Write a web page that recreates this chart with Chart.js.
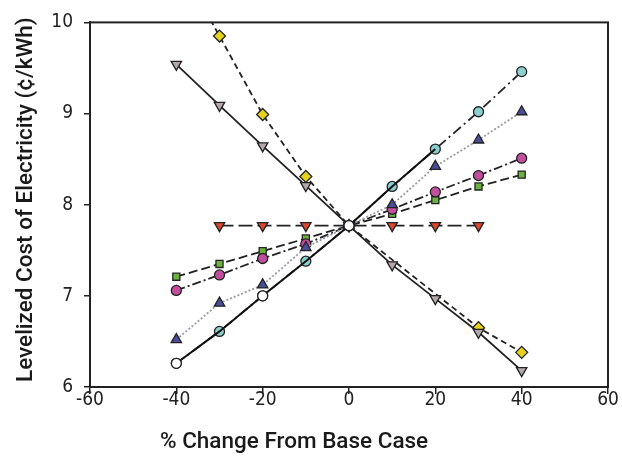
<!DOCTYPE html>
<html>
<head>
<meta charset="utf-8">
<script src="https://cdn.jsdelivr.net/npm/chart.js@4/dist/chart.umd.min.js"></script>
<style>
html,body{margin:0;padding:0;background:#fff;}
#wrap{width:622px;height:458px;}
</style>
</head>
<body>
<div id="wrap"><canvas id="c" width="622" height="458"></canvas></div>
<script>
const xChanges = [-40, -30, -20, -10, 0, 10, 20, 30, 40];
const xTicks = [-60, -40, -20, 0, 20, 40, 60];
const yTicks = [6, 7, 8, 9, 10];
const xTitle = '% Change From Base Case';
const yTitle = 'Levelized Cost of Electricity (¢/kWh)';
const yellowDiamond = [10.7, 9.85, 8.99, 8.31, 7.77, null, null, 6.65, 6.38];
const grayTriangle  = [9.54, 9.09, 8.645, 8.21, 7.77, 7.34, 6.97, 6.60, 6.18];
const redTriangle   = [null, 7.77, 7.77, 7.77, 7.77, 7.77, 7.77, 7.77, null];
const greenSquare   = [7.21, 7.35, 7.49, 7.63, 7.77, 7.90, 8.05, 8.20, 8.33];
const pinkCircle    = [7.06, 7.23, 7.41, 7.57, 7.77, 7.95, 8.14, 8.32, 8.51];
const blueTriangle  = [6.52, 6.92, 7.12, 7.53, 7.77, 8.00, 8.42, 8.71, 9.02];
const cyanCircle    = [6.26, 6.61, 7.00, 7.38, 7.77, 8.20, 8.61, 9.02, 9.46];
const whiteCircle   = [6.26, 6.61, 7.00, 7.38, 7.77, 8.20, 8.61, null, null];

const pts = arr => xChanges.map((x, i) => ({x: x, y: arr[i]}));
const TICKFONT = "'DejaVu Sans Condensed', 'Liberation Sans', sans-serif";
const TITLEFONT = "Roboto, 'Liberation Sans', sans-serif";
const LINE = '#222';

function ds(data, o) {
  return Object.assign({
    data: pts(data), showLine: true, spanGaps: true,
    borderColor: LINE, borderWidth: 1.8,
    pointBorderColor: '#222', pointBorderWidth: 1.3,
    pointRadius: 5, pointHoverRadius: 5
  }, o);
}

const frame = {
  id: 'frame',
  afterDraw(chart) {
    const a = chart.chartArea, ctx = chart.ctx;
    ctx.save();
    ctx.strokeStyle = '#222';
    ctx.lineWidth = 2;
    ctx.strokeRect(a.left, a.top, a.right - a.left, a.bottom - a.top);
    ctx.fillStyle = '#1a1a1a';
    ctx.font = '500 22.5px ' + TITLEFONT;
    ctx.textAlign = 'left';
    ctx.textBaseline = 'alphabetic';
    ctx.fillText(xTitle, 160, 448);
    ctx.translate(32, 382);
    ctx.rotate(-Math.PI / 2);
    ctx.font = '500 22.5px ' + TITLEFONT;
    ctx.fillText(yTitle, 0, 0);
    ctx.restore();
  }
};

new Chart(document.getElementById('c'), {
  type: 'scatter',
  data: {
    datasets: [
      ds(whiteCircle, {pointStyle: 'circle', pointBackgroundColor: '#ffffff', borderDash: [], borderColor: '#111', borderWidth: 2, pointRadius: [5,0,5,0,5,0,0,0,0], order: 0}),
      ds(cyanCircle, {pointStyle: 'circle', pointBackgroundColor: '#8ccfcf', borderDash: [10,4,2,4], order: 1}),
      ds(blueTriangle, {pointStyle: 'triangle', pointBackgroundColor: '#4a4d98', borderColor: '#9a9aa6', borderDash: [2,2], pointRadius: 6, order: 2}),
      ds(pinkCircle, {pointStyle: 'circle', pointBackgroundColor: '#c24f9e', borderDash: [9,3,2,3], order: 3}),
      ds(greenSquare, {pointStyle: 'rect', pointBackgroundColor: '#6cb23e', borderDash: [9,4], pointRadius: 5, order: 4}),
      ds(redTriangle, {pointStyle: 'triangle', rotation: 180, pointRotation: 180, pointBackgroundColor: '#d9472e', borderDash: [14,5], pointRadius: 6, order: 5}),
      ds(grayTriangle, {pointStyle: 'triangle', rotation: 180, pointRotation: 180, pointBackgroundColor: '#b3a9aa', borderDash: [], pointRadius: 6, order: 6}),
      ds(yellowDiamond, {pointStyle: 'rectRot', pointBackgroundColor: '#e5d21c', borderDash: [6,4], pointRadius: 6, order: 7})
    ]
  },
  options: {
    responsive: false,
    animation: false,
    events: [],
    layout: {padding: {left: 0, right: 14, top: 16, bottom: 0}},
    plugins: {legend: {display: false}, tooltip: {enabled: false}},
    scales: {
      x: {
        type: 'linear', min: -60, max: 60,
        afterBuildTicks: s => { s.ticks = xTicks.map(v => ({value: v})); },
        afterFit: s => { s.height = 71; },
        grid: {drawOnChartArea: false, drawTicks: true, tickLength: 7, color: '#222', lineWidth: 1.5},
        border: {display: true, color: '#222', width: 2},
        ticks: {color: '#222', padding: -5, font: {family: TICKFONT, size: 19}},
        title: {display: false}
      },
      y: {
        type: 'linear', min: 6, max: 10,
        afterBuildTicks: s => { s.ticks = yTicks.map(v => ({value: v})); },
        afterFit: s => { s.width = 90; },
        grid: {drawOnChartArea: false, drawTicks: true, tickLength: 6, color: '#222', lineWidth: 1.5},
        border: {display: true, color: '#222', width: 2},
        ticks: {color: '#222', padding: 11, font: {family: TICKFONT, size: 19}},
        title: {display: false}
      }
    }
  },
  plugins: [frame]
});
</script>
</body>
</html>
